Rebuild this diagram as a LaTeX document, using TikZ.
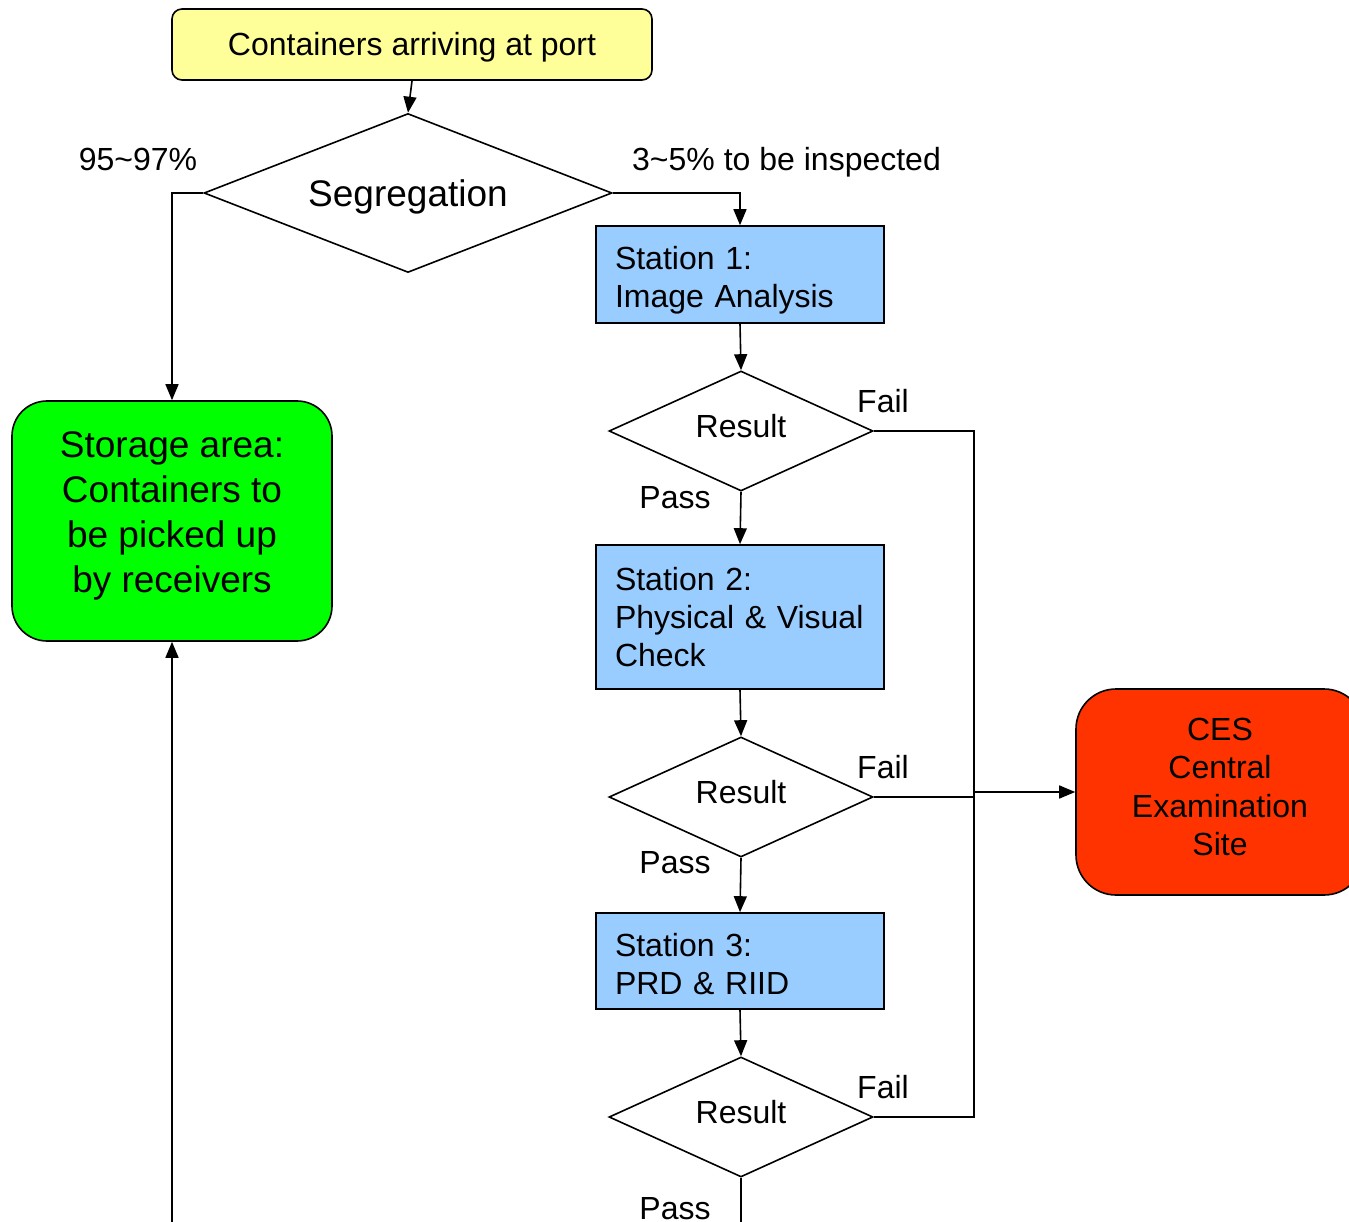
\documentclass[tikz,border=0pt]{standalone}
\usepackage{fontspec}
\setmainfont{Liberation Sans}
\usetikzlibrary{shapes.geometric,arrows.meta}
\definecolor{boxyellow}{HTML}{FFFF99}
\definecolor{boxgreen}{HTML}{00FF00}
\definecolor{boxblue}{HTML}{99CCFF}
\definecolor{boxred}{HTML}{FF3300}
\tikzset{
  base/.style={draw=black, line width=1.6pt, font=\fontsize{32}{38.4}\selectfont},
  stationbox/.style={base, rectangle, fill=boxblue, minimum width=288pt, text width=250pt, align=left, inner xsep=0pt},
  decision/.style={base, diamond, fill=white, inner sep=0pt, shape aspect=2.2, minimum width=264pt, minimum height=120pt, text depth=10pt},
  lbl/.style={font=\fontsize{32}{38.4}\selectfont, inner sep=0pt},
  conn/.style={line width=1.6pt},
  arrow/.style={conn, -{Triangle[length=16pt,width=13pt]}},
}
\begin{document}
\begin{tikzpicture}[x=1pt,y=-1pt]
\useasboundingbox (0,0) rectangle (1349,1222);
\clip (0,0) rectangle (1349,1222);
\node[base, rectangle, rounded corners=10pt, fill=boxyellow, minimum width=480pt, minimum height=71pt, text height=29pt] (arrive) at (412,44.5) {Containers arriving at port};
\node[base, diamond, fill=white, inner sep=0pt, shape aspect=2.566, minimum width=408pt, minimum height=159pt, text height=35pt, font=\fontsize{37}{44}\selectfont] (seg) at (408,193) {Segregation};
\node[base, rectangle, rounded corners=35pt, fill=boxgreen, minimum width=320pt, minimum height=240pt, align=center, text depth=18pt, font=\fontsize{37}{45}\selectfont] (store) at (172,521) {Storage area:\\Containers to\\be picked up\\by receivers};
\node[stationbox, minimum height=97pt, text height=35pt] (s1) at (740,274.5) {Station 1:\\Image Analysis};
\node[decision] (r1) at (741,431) {Result};
\node[stationbox, minimum height=144pt] (s2) at (740,617) {Station 2:\\Physical \& Visual\\Check};
\node[decision] (r2) at (741,797) {Result};
\node[stationbox, minimum height=96pt, text height=29pt] (s3) at (740,961) {Station 3:\\PRD \& RIID};
\node[decision] (r3) at (741,1117) {Result};
\node[base, rectangle, rounded corners=40pt, fill=boxred, minimum width=288pt, minimum height=206pt, align=center, text depth=10pt] (ces) at (1220,792) {CES\\Central\\Examination\\Site};

\node[lbl] (l95) at (138,159) {95\textasciitilde97\%};
\node[lbl, anchor=west] (l35) at (632,162) {3\textasciitilde5\% to be inspected};
\node[lbl, anchor=west] (f1) at (857,401) {Fail};
\node[lbl, anchor=west] (f2) at (857,767) {Fail};
\node[lbl, anchor=west] (f3) at (857,1087) {Fail};
\node[lbl] (p1) at (675,498) {Pass};
\node[lbl] (p2) at (675,863) {Pass};
\node[lbl] (p3) at (675,1209) {Pass};

\coordinate (bus) at (974,792);
\coordinate (botL) at (172,1240);
\coordinate (botR) at (741,1240);

\draw[arrow] (arrive.south) -- (seg.north);
\draw[arrow] (seg.west) -| (store.north);
\draw[arrow] (seg.east) -| (s1.north);
\draw[arrow] (s1.south) -- (r1.north);
\draw[arrow] (r1.south) -- (s2.north);
\draw[arrow] (s2.south) -- (r2.north);
\draw[arrow] (r2.south) -- (s3.north);
\draw[arrow] (s3.south) -- (r3.north);
\draw[conn] (r3.south) -- (botR);
\draw[arrow] (botL) -- (store.south);
\draw[conn] (r1.east) -- (r1.east -| bus) -- (r3.east -| bus) -- (r3.east);
\draw[conn] (r2.east) -- (r2.east -| bus);
\draw[arrow] (bus) -- (ces.west);
\end{tikzpicture}
\end{document}
